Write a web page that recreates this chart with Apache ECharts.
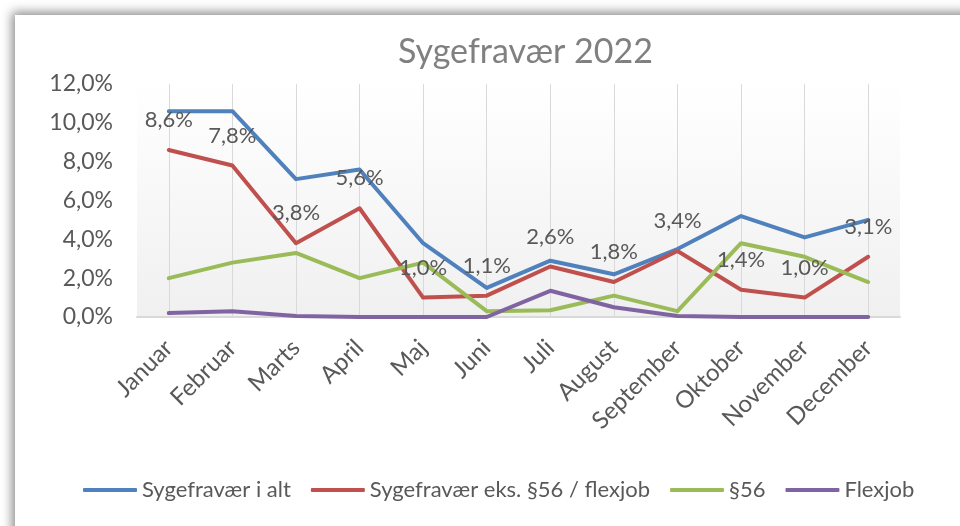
<!DOCTYPE html>
<html>
<head>
<meta charset="utf-8">
<script src="https://cdn.jsdelivr.net/npm/echarts@6/dist/echarts.min.js"></script>
<style>
  html, body { margin: 0; padding: 0; background: #ffffff; overflow: hidden; }
  #frame { position: absolute; left: 15px; top: 15px; width: 1200px; height: 800px; background: #ffffff;
           box-shadow: 0 0 10px 3px rgba(0,0,0,0.45); }
  #chart { position: absolute; left: 0; top: 0; width: 960px; height: 526px; }
</style>
</head>
<body>
<div id="frame"></div>
<div id="chart"></div>
<script>
const categories = ['Januar','Februar','Marts','April','Maj','Juni','Juli','August','September','Oktober','November','December'];
const sygefravaerIAlt = [10.6, 10.6, 7.1, 7.6, 3.8, 1.5, 2.9, 2.2, 3.5, 5.2, 4.1, 5.0];
const sygefravaerEks = [8.6, 7.8, 3.8, 5.6, 1.0, 1.1, 2.6, 1.8, 3.4, 1.4, 1.0, 3.1];
const paragraf56 = [2.0, 2.8, 3.3, 2.0, 2.8, 0.3, 0.35, 1.1, 0.3, 3.8, 3.1, 1.8];
const flexjob = [0.2, 0.3, 0.05, 0, 0, 0, 1.35, 0.5, 0.05, 0, 0, 0];
const seriesNames = ['Sygefravær i alt', 'Sygefravær eks. §56 / flexjob', '§56', 'Flexjob'];
const yTicks = { min: 0, max: 12, interval: 2 };

const FONT = 'Lato';
const TXT = '#595959';
const fmt = v => v.toFixed(1).replace('.', ',') + '%';

const chart = echarts.init(document.getElementById('chart'), null, { renderer: 'canvas' });

function lineSeries(name, data, color, withLabel) {
  return {
    name, type: 'line', data, symbol: 'circle', symbolSize: 2, showSymbol: true, smooth: false, z: 3,
    lineStyle: { color, width: 4, cap: 'round', join: 'round' },
    itemStyle: { color },
    emphasis: { disabled: true },
    labelLayout: { hideOverlap: false },
    label: withLabel ? {
      show: true, position: 'top', distance: 18,
      color: TXT, fontFamily: FONT, fontSize: 22,
      formatter: p => fmt(p.value)
    } : { show: false }
  };
}

chart.setOption({
  backgroundColor: 'transparent',
  animation: false,
  title: {
    text: 'Sygefravær 2022', left: 393, top: 30,
    textStyle: { color: '#808080', fontFamily: FONT, fontSize: 34, fontWeight: 'normal' }
  },
  legend: {
    left: 83, top: 479, padding: 0, itemWidth: 54, itemHeight: 4, itemGap: 20, icon: 'roundRect',
    textStyle: { color: TXT, fontFamily: FONT, fontSize: 22 },
    data: seriesNames
  },
  grid: {
    left: 137, right: 60, top: 84, bottom: 209, show: true, borderWidth: 0,
    backgroundColor: new echarts.graphic.LinearGradient(0, 0, 0, 1, [
      { offset: 0, color: '#ffffff' }, { offset: 1, color: '#f0f0f0' }
    ])
  },
  xAxis: {
    type: 'category', data: categories, boundaryGap: true,
    axisLine: { show: true, lineStyle: { color: '#d9d9d9', width: 2 } },
    axisTick: { show: false },
    splitLine: { show: true, alignWithLabel: true, lineStyle: { color: '#d9d9d9', width: 1 } },
    axisLabel: { rotate: 45, margin: 27, color: TXT, fontFamily: FONT, fontSize: 24, interval: 0 }
  },
  yAxis: {
    type: 'value', min: yTicks.min, max: yTicks.max, interval: yTicks.interval,
    axisLine: { show: false }, axisTick: { show: false }, splitLine: { show: false },
    axisLabel: { margin: 24, color: TXT, fontFamily: FONT, fontSize: 23, formatter: v => fmt(v) }
  },
  series: [
    lineSeries(seriesNames[0], sygefravaerIAlt, '#4F81BD', false),
    lineSeries(seriesNames[1], sygefravaerEks, '#C0504D', true),
    lineSeries(seriesNames[2], paragraf56, '#9BBB59', false),
    lineSeries(seriesNames[3], flexjob, '#8064A2', false)
  ]
});
</script>
</body>
</html>
